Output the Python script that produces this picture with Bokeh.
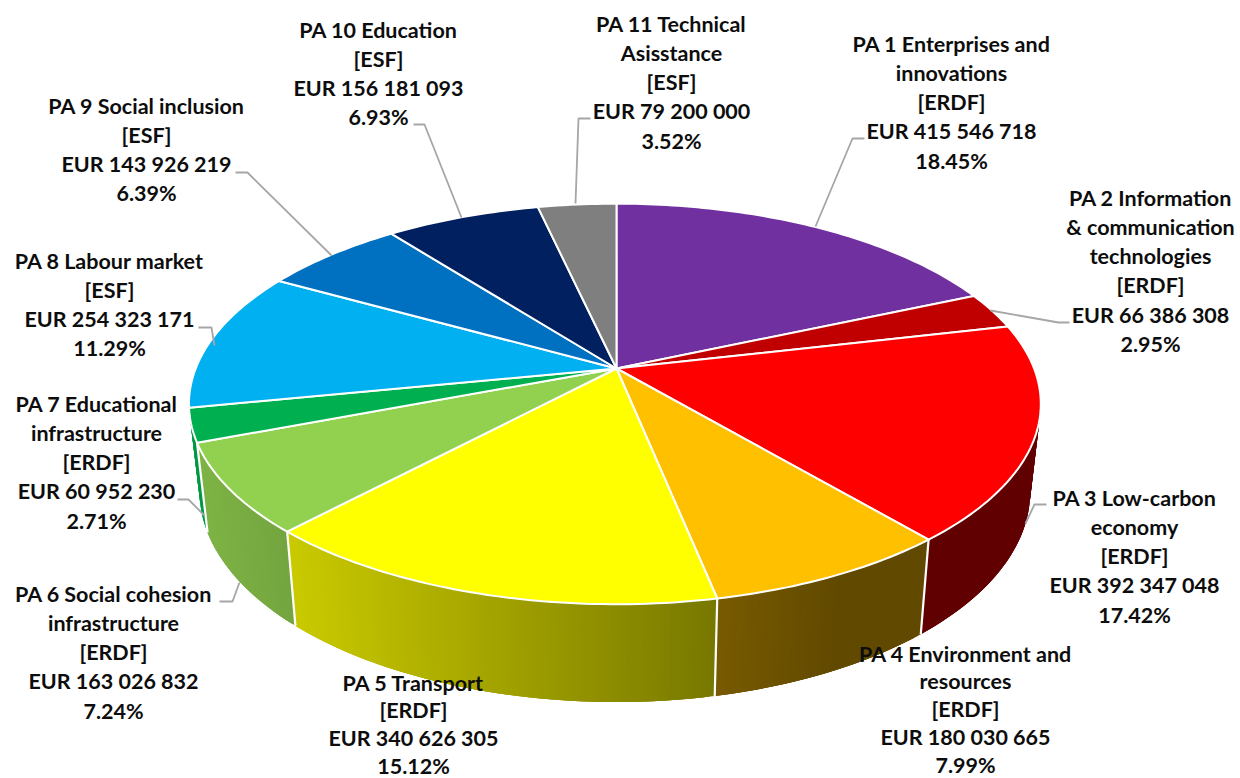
import math
from bokeh.plotting import figure
from bokeh.models import Range1d
from bokeh.core.properties import value
from bokeh.embed import file_html
from bokeh.resources import INLINE

# ---- data ----
names = [["PA 1 Enterprises and", "innovations"],
         ["PA 2 Information", "& communication", "technologies"],
         ["PA 3 Low-carbon", "economy"],
         ["PA 4 Environment and", "resources"],
         ["PA 5 Transport"],
         ["PA 6 Social cohesion", "infrastructure"],
         ["PA 7 Educational", "infrastructure"],
         ["PA 8 Labour market"],
         ["PA 9 Social inclusion"],
         ["PA 10 Education"],
         ["PA 11 Technical", "Asisstance"]]
funds = ["ERDF", "ERDF", "ERDF", "ERDF", "ERDF", "ERDF", "ERDF", "ESF", "ESF", "ESF", "ESF"]
amounts = [415546718, 66386308, 392347048, 180030665, 340626305, 163026832,
           60952230, 254323171, 143926219, 156181093, 79200000]
percents = ["18.45%", "2.95%", "17.42%", "7.99%", "15.12%", "7.24%",
            "2.71%", "11.29%", "6.39%", "6.93%", "3.52%"]
colors = ["#7030A0", "#C00000", "#FF0000", "#FFC000", "#FFFF00", "#92D050",
          "#00B050", "#00B0F0", "#0070C0", "#002060", "#7F7F7F"]

# ---- layout (page pixels) ----
W, H = 1240, 778
CX, CY = 616.0, 368.0
A_RIGHT, A_LEFT, B, K = 417.6, 420.8, 194.0, 0.177
SX, SY, Y0 = 0.975, 1.05, 454.0
label_x = [951, 1150, 1134, 965, 413, 113, 96, 109, 146, 378, 671]
label_y = [43, 197, 497, 653, 682, 593, 403, 260, 105, 29, 23]
label_step = [29.3, 29.3, 29.3, 27.8, 27.8, 29.3, 29.3, 29.3, 29.3, 29.3, 29.3]
leaders = [[(815, 226), (852, 138), (864, 138)],
           [(990, 310), (1058, 322), (1069, 322)],
           [(1025, 523), (1034, 504), (1046, 504)],
           [(239, 582), (232, 601), (219, 601)],
           [(204, 515), (188, 499), (177, 499)],
           [(214, 345), (211, 327), (198, 327)],
           [(331, 255), (247, 172), (235, 172)],
           [(461, 217), (424, 124), (413, 124)],
           [(575, 203), (578, 118), (590, 118)]]


def top(theta):
    u, v = math.sin(theta), math.cos(theta)
    d = 1 + K * v
    a = A_RIGHT if u >= 0 else A_LEFT
    return CX + a * u / d, CY - B * v / d


def bottom(theta):
    x, y = top(theta)
    return CX + SX * (x - CX), Y0 + SY * (y - CY)


def shade(hex_color, x):
    s = min(1.0, max(0.38, 0.86 - 0.00075 * (x - 200)))
    r, g, b = (int(hex_color[i:i + 2], 16) for i in (1, 3, 5))
    return "#%02x%02x%02x" % (round(r * s), round(g * s), round(b * s))


total = sum(amounts)
edges = [0.0]
for a in amounts:
    edges.append(edges[-1] + a / total * 2 * math.pi)

p = figure(width=W, height=H, output_backend="svg", toolbar_location=None,
           x_range=Range1d(0, W), y_range=Range1d(H, 0),
           min_border=0, outline_line_color=None)
p.axis.visible = False
p.grid.visible = False
p.background_fill_color = "white"
p.border_fill_color = "white"

# wall strips, front slices only; each strip overlaps the next so no seams show
sx, sy, sc = [], [], []
for i in range(2, 7):
    step = (edges[i + 1] - edges[i])
    n = max(2, int(step / math.radians(0.6)))
    for j in range(n):
        t0 = edges[i] + step * j / n
        t1 = edges[i] + step * min(n, j + 3) / n
        a0, a1, b1, b0 = top(t0), top(t1), bottom(t1), bottom(t0)
        sx.append([a0[0], a1[0], b1[0], b0[0]])
        sy.append([a0[1], a1[1], b1[1], b0[1]])
        sc.append(shade(colors[i], a0[0]))
p.patches(sx, sy, fill_color=sc, line_color=None)

# white separators on the wall
for i in (3, 4, 5, 6):
    a0, b0 = top(edges[i]), bottom(edges[i])
    p.line([a0[0], b0[0]], [a0[1], b0[1]], line_color="white", line_width=2.2)

# top face
fx, fy = [], []
for i in range(len(amounts)):
    n = max(4, int((edges[i + 1] - edges[i]) / math.radians(1)))
    pts = [top(edges[i] + (edges[i + 1] - edges[i]) * j / n) for j in range(n + 1)]
    fx.append([CX] + [q[0] for q in pts])
    fy.append([CY] + [q[1] for q in pts])
p.patches(fx, fy, fill_color=colors, line_color="white", line_width=2, line_join="round")

# leaders
for seg in leaders:
    p.line([q[0] for q in seg], [q[1] for q in seg], line_color="#A6A6A6", line_width=1.8)

# labels
tx, ty, tt = [], [], []
for i, nm in enumerate(names):
    lines = nm + ["[%s]" % funds[i], "EUR " + f"{amounts[i]:,}".replace(",", " "), percents[i]]
    for k, s in enumerate(lines):
        tx.append(label_x[i])
        ty.append(label_y[i] + k * label_step[i])
        tt.append(s)
p.text(x=tx, y=ty, text=tt, text_font=value("Lato"), text_font_style="bold",
       text_font_size="21.5px", text_align="center", text_baseline="middle", text_color="#0d0d0d")

open("out.html", "w").write(file_html(p, INLINE))
